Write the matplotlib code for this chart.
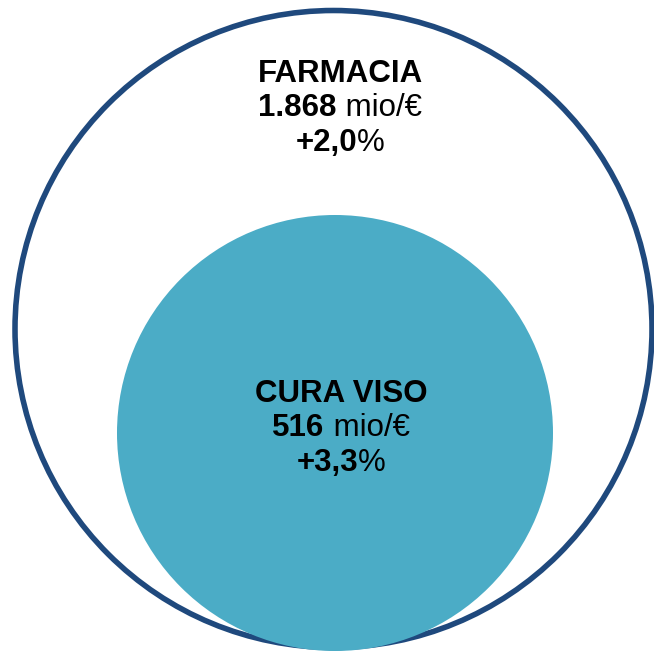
import matplotlib
matplotlib.use("Agg")
import matplotlib.pyplot as plt
from matplotlib.patches import Circle

# Data
categories = ["FARMACIA", "CURA VISO"]
values = ["1.868", "516"]
unit = " mio/€"
growth = ["+2,0", "+3,3"]

# Layout
W = H = 654
fig = plt.figure(figsize=(6.54, 6.54), dpi=100)
ax = fig.add_axes([0, 0, 1, 1])
ax.set_xlim(0, W)
ax.set_ylim(H, 0)
ax.set_aspect("equal")
ax.axis("off")

outer = Circle((333.5, 329), 318.5, facecolor="white", edgecolor="#1F497D", linewidth=4.0, zorder=1)
inner = Circle((335, 433), 218, facecolor="#4BACC6", edgecolor="none", zorder=2)
ax.add_patch(outer)
ax.add_patch(inner)

FONT = "Liberation Sans"
FS = 22.5
renderer = fig.canvas.get_renderer()

def mixed_line(x_center, y, pieces):
    texts = []
    for s, w in pieces:
        t = ax.text(0, y, s, fontsize=FS, fontweight=w, family=FONT, va="baseline", ha="left", zorder=5)
        texts.append(t)
    widths = []
    inv = ax.transData.inverted()
    for t in texts:
        bb = t.get_window_extent(renderer=renderer)
        p0 = inv.transform((bb.x0, bb.y0))
        p1 = inv.transform((bb.x1, bb.y0))
        widths.append(p1[0] - p0[0])
    total = sum(widths)
    x = x_center - total / 2
    for t, w in zip(texts, widths):
        t.set_x(x)
        x += w

def block(xc, ys, i):
    mixed_line(xc, ys[0], [(categories[i], "bold")])
    mixed_line(xc, ys[1], [(values[i], "bold"), (unit, "normal")])
    mixed_line(xc, ys[2], [(growth[i], "bold"), ("%", "normal")])

block(340, [82, 116, 151], 0)
block(341, [402, 436, 471], 1)

fig.savefig("out.png", dpi=100)
